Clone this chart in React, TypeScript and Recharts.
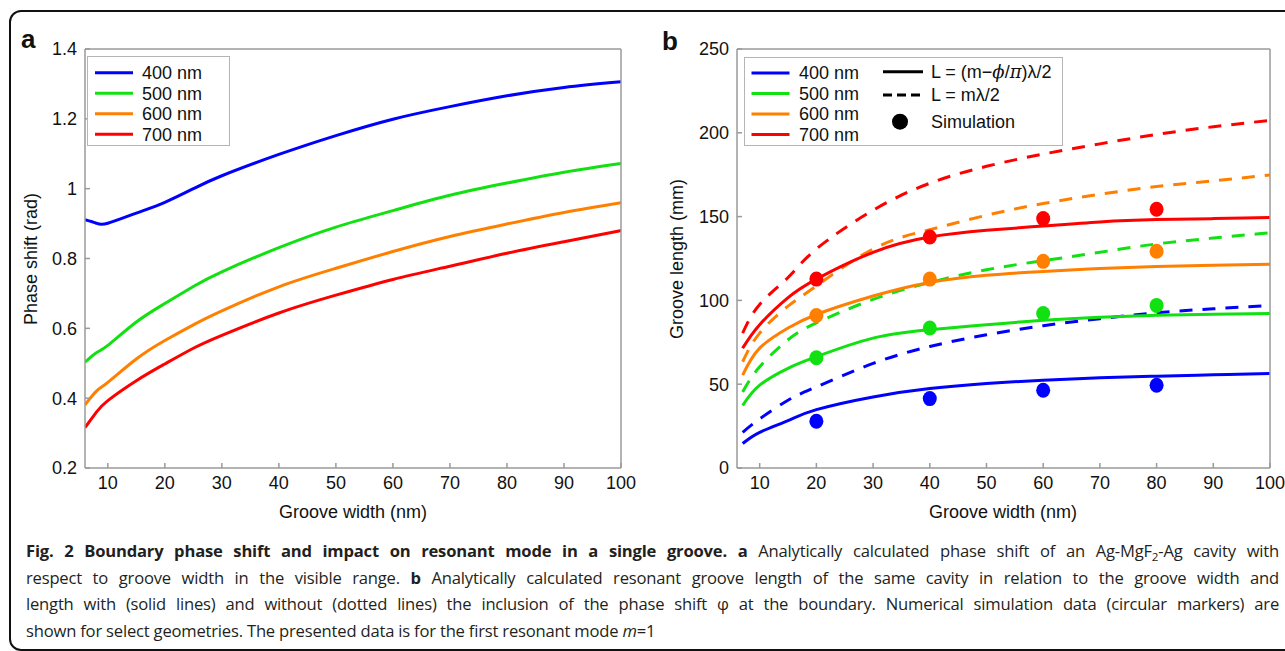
import { LineChart, ComposedChart, Line, Scatter, XAxis, YAxis } from 'recharts'

const FONT = '"Liberation Sans", Arial, Helvetica, sans-serif'
const AXIS = '#9a9a9a'

// shared
const wavelengths = ['400 nm', '500 nm', '600 nm', '700 nm']
const colors = ['#0000ff', '#11e011', '#ff8000', '#ff0000']
const ticksX = [10, 20, 30, 40, 50, 60, 70, 80, 90, 100]

// panel a: phase shift (rad) vs groove width (nm)
const widthA = [6, 8, 10, 15, 20, 25, 30, 40, 50, 60, 70, 80, 90, 100]
const phase400 = [0.911, 0.901, 0.901, 0.93, 0.961, 1.0, 1.037, 1.098, 1.152, 1.199, 1.235, 1.266, 1.29, 1.306]
const phase500 = [0.503, 0.53, 0.551, 0.618, 0.671, 0.72, 0.762, 0.831, 0.89, 0.937, 0.981, 1.016, 1.047, 1.072]
const phase600 = [0.381, 0.42, 0.445, 0.512, 0.565, 0.61, 0.65, 0.719, 0.772, 0.82, 0.863, 0.899, 0.932, 0.96]
const phase700 = [0.316, 0.36, 0.393, 0.45, 0.498, 0.543, 0.58, 0.644, 0.695, 0.74, 0.778, 0.815, 0.848, 0.88]
const ticksA = [0.2, 0.4, 0.6, 0.8, 1, 1.2, 1.4]

// panel b: groove length (mm) vs groove width (nm)
const widthB = [7, 10, 15, 20, 30, 40, 50, 60, 70, 80, 90, 100]
const solid400 = [14.6, 21.3, 28.3, 34.8, 42.4, 47.4, 50.4, 52.4, 53.8, 54.8, 55.6, 56.4]
const solid500 = [37.3, 49.4, 59.5, 66.4, 77.5, 82.5, 85.5, 88.1, 89.9, 91.1, 91.8, 92.2]
const solid600 = [55.4, 71.5, 83.5, 91.6, 102.6, 110.7, 115, 117.3, 119, 120.3, 121, 121.5]
const solid700 = [71.5, 85.5, 101.6, 112.7, 128.7, 137.8, 141.8, 144.4, 146.8, 148.2, 148.8, 149.4]
const dash400 = [21.3, 29.3, 40.4, 48.4, 62.4, 72.5, 79.5, 84.9, 89.1, 92.6, 95, 97]
const dash500 = [45.4, 60.4, 76.5, 86.6, 100.6, 110.7, 118.3, 123.7, 128.7, 133.7, 137.2, 140.4]
const dash600 = [63.4, 80.5, 96.6, 108.6, 130.7, 142.2, 150.8, 157.8, 163.3, 167.9, 171.3, 174.9]
const dash700 = [80.5, 97.6, 113.7, 130.7, 153.8, 169.9, 180, 187.3, 193.4, 199, 203.6, 207.4]
const ticksB = [0, 50, 100, 150, 200, 250]

// simulation markers
const simWidth = [20, 40, 60, 80]
const sim400 = [27.9, 41.4, 46.4, 49.4]
const sim500 = [65.8, 83.5, 92.2, 97]
const sim600 = [91, 112.7, 123.3, 129.3]
const sim700 = [112.7, 137.8, 148.8, 154.4]

const rowsA = widthA.map((w, i) => ({ w, p400: phase400[i], p500: phase500[i], p600: phase600[i], p700: phase700[i] }))
const rowsB = widthB.map((w, i) => ({
  w,
  s400: solid400[i], s500: solid500[i], s600: solid600[i], s700: solid700[i],
  d400: dash400[i], d500: dash500[i], d600: dash600[i], d700: dash700[i],
}))
const simRows = simWidth.map((w, i) => ({ w, m400: sim400[i], m500: sim500[i], m600: sim600[i], m700: sim700[i] }))

const tickStyle = { fontSize: 18, fill: '#111', fontFamily: FONT }
const lineStyle = { stroke: AXIS, strokeWidth: 1.5 }

// box frame: labelled bottom/left axes plus bare top/right axes, ticks pointing inward
const frame = (domainY: number[], ticksY: number[]) => [
  <XAxis key="xb" dataKey="w" type="number" domain={[6, 100]} ticks={ticksX} allowDataOverflow
    height={30} tickSize={-5} tickMargin={13} tick={tickStyle} axisLine={lineStyle} tickLine={lineStyle} />,
  <XAxis key="xt" xAxisId="top" orientation="top" dataKey="w" type="number" domain={[6, 100]} ticks={ticksX}
    allowDataOverflow height={1} tickSize={-5} tick={false} axisLine={lineStyle} tickLine={lineStyle} />,
  <YAxis key="yl" type="number" domain={domainY} ticks={ticksY} allowDataOverflow
    width={60} tickSize={-5} tickMargin={13} tick={tickStyle} axisLine={lineStyle} tickLine={lineStyle} />,
  <YAxis key="yr" yAxisId="right" orientation="right" type="number" domain={domainY} ticks={ticksY}
    allowDataOverflow width={1} tickSize={-5} tick={false} axisLine={lineStyle} tickLine={lineStyle} />,
]

const Dot = (props: any) => (
  <ellipse cx={props.cx} cy={props.cy} rx={7} ry={7.5} fill={props.fill} />
)

const text = (extra: any) => ({ position: 'absolute' as const, fontFamily: FONT, fontSize: 18, color: '#111', whiteSpace: 'nowrap' as const, ...extra })
const justified = { textAlignLast: 'justify' as const, textAlign: 'justify' as const, whiteSpace: 'nowrap' as const }

export default function App() {
  return (
    <div style={{ position: 'absolute', left: 0, top: 0, width: 1285, height: 651, overflow: 'hidden', background: '#fff', fontFamily: FONT }}>
      {/* outer frame, open on the right */}
      <div style={{ position: 'absolute', left: 9, top: 10, width: 1300, height: 637, border: '2.5px solid #111', borderRadius: 12 }} />

      {/* panel a */}
      <div style={{ position: 'absolute', left: 0, top: 0 }}>
        <LineChart width={640} height={520} data={rowsA} margin={{ top: 48, right: 18, left: 25, bottom: 22 }}>
          {frame([0.2, 1.4], ticksA)}
          {['p400', 'p500', 'p600', 'p700'].map((k, i) => (
            <Line key={k} dataKey={k} type="natural" stroke={colors[i]} strokeWidth={3} dot={false} isAnimationActive={false} />
          ))}
        </LineChart>
      </div>

      {/* panel b */}
      <div style={{ position: 'absolute', left: 640, top: 0 }}>
        <ComposedChart width={645} height={520} data={rowsB} margin={{ top: 48, right: 14, left: 37, bottom: 22 }}>
          {frame([0, 250], ticksB)}
          {['d400', 'd500', 'd600', 'd700'].map((k, i) => (
            <Line key={k} dataKey={k} type="natural" stroke={colors[i]} strokeWidth={3} strokeDasharray="13 10" dot={false} isAnimationActive={false} />
          ))}
          {['s400', 's500', 's600', 's700'].map((k, i) => (
            <Line key={k} dataKey={k} type="natural" stroke={colors[i]} strokeWidth={3} dot={false} isAnimationActive={false} />
          ))}
          {['m400', 'm500', 'm600', 'm700'].map((k, i) => (
            <Scatter key={k} data={simRows} dataKey={k} fill={colors[i]} shape={Dot} isAnimationActive={false} />
          ))}
        </ComposedChart>
      </div>

      {/* legend a */}
      <svg style={{ position: 'absolute', left: 87, top: 56 }} width={144} height={91}>
        <rect x={0.5} y={0.5} width={142} height={89} fill="#fff" stroke="#b5b5b5" />
        {wavelengths.map((name, i) => (
          <g key={name}>
            <line x1={8} x2={46} y1={16.7 + i * 20.5} y2={16.7 + i * 20.5} stroke={colors[i]} strokeWidth={3} />
            <text x={55} y={16.7 + i * 20.5} dy="0.36em" fontSize={18} fill="#111" fontFamily={FONT}>{name}</text>
          </g>
        ))}
      </svg>

      {/* legend b */}
      <svg style={{ position: 'absolute', left: 744, top: 57 }} width={320} height={90}>
        <rect x={0.5} y={0.5} width={318} height={88} fill="#fff" stroke="#b5b5b5" />
        {wavelengths.map((name, i) => (
          <g key={name}>
            <line x1={7.5} x2={45.5} y1={16 + i * 20.5} y2={16 + i * 20.5} stroke={colors[i]} strokeWidth={3} />
            <text x={55} y={16 + i * 20.5} dy="0.36em" fontSize={18} fill="#111" fontFamily={FONT}>{name}</text>
          </g>
        ))}
        <line x1={139} x2={179} y1={14.7} y2={14.7} stroke="#000" strokeWidth={3} />
        <text x={187} y={14.7} dy="0.36em" fontSize={18} fill="#111" fontFamily={FONT}>
          L = (m−<tspan fontFamily="'DejaVu Serif', serif" fontStyle="italic">ϕ</tspan>/<tspan fontFamily="'DejaVu Serif', serif" fontStyle="italic">π</tspan>)λ/2
        </text>
        <line x1={139} x2={179} y1={38} y2={38} stroke="#000" strokeWidth={3} strokeDasharray="9 5" />
        <text x={187} y={38} dy="0.36em" fontSize={18} fill="#111" fontFamily={FONT}>L = mλ/2</text>
        <ellipse cx={156} cy={64.7} rx={8} ry={8} fill="#000" />
        <text x={187} y={64.7} dy="0.36em" fontSize={18} fill="#111" fontFamily={FONT}>Simulation</text>
      </svg>

      {/* panel letters */}
      <div style={text({ left: 21, top: 26, fontSize: 26, fontWeight: 700, lineHeight: '26px' })}>a</div>
      <div style={text({ left: 662, top: 28, fontSize: 26, fontWeight: 700, lineHeight: '26px' })}>b</div>

      {/* axis titles */}
      <div style={text({ left: 31, top: 259, transform: 'translate(-50%, -50%) rotate(-90deg)' })}>Phase shift (rad)</div>
      <div style={text({ left: 677, top: 259, transform: 'translate(-50%, -50%) rotate(-90deg)' })}>Groove length (mm)</div>
      <div style={text({ left: 353, top: 512, transform: 'translate(-50%, -50%)' })}>Groove width (nm)</div>
      <div style={text({ left: 1003, top: 512, transform: 'translate(-50%, -50%)' })}>Groove width (nm)</div>

      {/* caption */}
      <div style={{ position: 'absolute', left: 26, top: 538, width: 1253, fontFamily: '"Open Sans", sans-serif', fontSize: 16.6, lineHeight: '26.7px', color: '#231f20', letterSpacing: '-0.2px' }}>
        <div style={justified}>
          <b>Fig. 2 Boundary phase shift and impact on resonant mode in a single groove.</b> <b>a</b> Analytically calculated phase shift of an Ag-MgF<sub style={{ fontSize: '0.7em', lineHeight: 0 }}>2</sub>-Ag cavity with
        </div>
        <div style={justified}>
          respect to groove width in the visible range. <b>b</b> Analytically calculated resonant groove length of the same cavity in relation to the groove width and
        </div>
        <div style={justified}>
          length with (solid lines) and without (dotted lines) the inclusion of the phase shift φ at the boundary. Numerical simulation data (circular markers) are
        </div>
        <div style={{ whiteSpace: 'nowrap' }}>
          shown for select geometries. The presented data is for the first resonant mode <i>m</i>=1
        </div>
      </div>
    </div>
  )
}
